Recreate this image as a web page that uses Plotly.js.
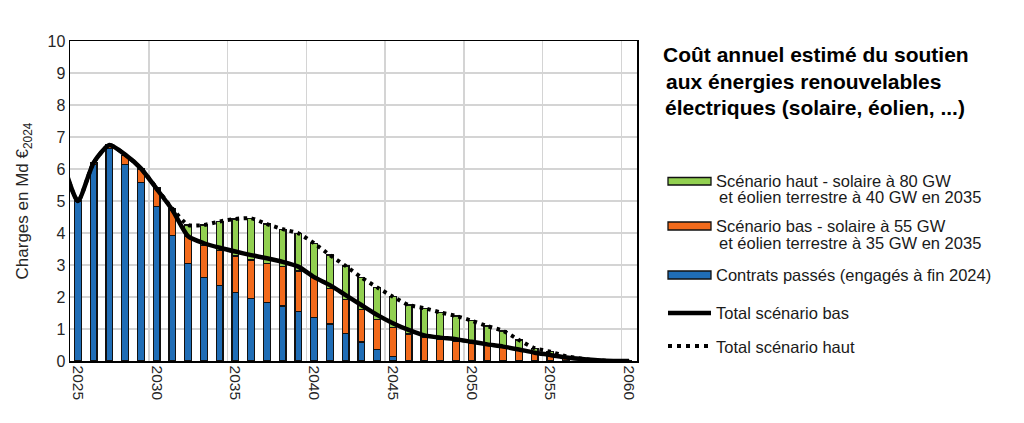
<!DOCTYPE html>
<html>
<head>
<meta charset="utf-8">
<script src="https://cdn.plot.ly/plotly-3.0.1.min.js"></script>
<style>
html,body{margin:0;padding:0;background:#fff;}
#chart{width:1024px;height:423px;}
</style>
</head>
<body>
<div id="chart"></div>
<script>
// ---------------- DATA ----------------
const years = [2025,2026,2027,2028,2029,2030,2031,2032,2033,2034,2035,2036,2037,2038,2039,2040,2041,2042,
               2043,2044,2045,2046,2047,2048,2049,2050,2051,2052,2053,2054,2055,2056,2057,2058,2059,2060];
// Contrats passés (engagés à fin 2024)
const contratsPasses = [5.00,6.15,6.65,6.15,5.58,4.82,3.93,3.05,2.61,2.37,2.14,1.96,1.83,1.72,1.54,1.36,1.16,0.86,
                        0.59,0.36,0.14,0.02,0,0,0,0,0,0,0,0,0,0,0,0,0,0];
// Scénario bas (supplément au-dessus des contrats passés)
const scenarioBas = [0.00,0.05,0.10,0.27,0.42,0.58,0.77,0.85,0.99,1.08,1.14,1.20,1.22,1.23,1.27,1.26,1.11,1.07,
                     1.02,0.94,0.91,0.82,0.74,0.67,0.60,0.56,0.50,0.43,0.34,0.24,0.16,0.10,0.05,0.02,0,0];
// Scénario haut (supplément au-dessus du scénario bas)
const scenarioHaut = [0.00,0.00,0.00,0.00,0.00,0.02,0.05,0.35,0.65,0.92,1.16,1.30,1.23,1.17,1.18,1.06,1.04,1.04,
                      1.00,1.00,0.96,0.91,0.91,0.85,0.81,0.70,0.59,0.51,0.32,0.16,0.13,0.05,0.02,0,0,0];
// Courbes de total (incluent 2024)
const lineYears = [2024,2025,2026,2027,2028,2029,2030,2031,2032,2033,2034,2035,2036,2037,2038,2039,2040,2041,2042,
                   2043,2044,2045,2046,2047,2048,2049,2050,2051,2052,2053,2054,2055,2056,2057,2058,2059,2060];
const totalBas = [6.30,5.00,6.20,6.75,6.45,6.02,5.38,4.72,3.90,3.68,3.54,3.42,3.31,3.21,3.10,2.95,2.62,2.37,2.06,
                  1.75,1.44,1.18,0.97,0.80,0.73,0.68,0.60,0.52,0.45,0.36,0.26,0.19,0.11,0.06,0.02,0,0];
const totalHaut = [6.30,5.00,6.20,6.75,6.45,6.02,5.40,4.76,4.25,4.25,4.36,4.44,4.46,4.28,4.12,3.99,3.68,3.31,2.97,
                   2.61,2.30,2.01,1.75,1.65,1.52,1.41,1.26,1.09,0.94,0.66,0.40,0.29,0.15,0.07,0.02,0,0];
const xTickVals = [2025,2030,2035,2040,2045,2050,2055,2060];
const xTickText = ['2025','2030','2035','2040','2045','2050','2055','2060'];
const xGridVals = [2029.5,2034.5,2039.5,2044.5,2049.5,2054.5,2059.5];

const seriesNames = [
  'Scénario haut - solaire à 80 GW',
  'et éolien terrestre à 40 GW en 2035',
  'Scénario bas - solaire à 55 GW',
  'et éolien terrestre à 35 GW en 2035',
  'Contrats passés (engagés à fin 2024)',
  'Total scénario bas',
  'Total scénario haut'
];
const titleLines = ['Coût annuel estimé du soutien','aux énergies renouvelables','électriques (solaire, éolien, ...)'];

// ---------------- STYLE ----------------
const C_BLUE = '#1f6db6', C_ORANGE = '#f26a1b', C_GREEN = '#92d050';
const FONT = 'Liberation Sans, Arial, sans-serif';
const L = 70, R = 637, T = 41, B = 361, W = 1024, H = 423;
const px = v => (v - L) / (R - L);
const py = v => (B - v) / (B - T);

const barCommon = {type:'bar', x: years, width: 0.42, showlegend:false, hoverinfo:'skip'};
const traces = [
  Object.assign({}, barCommon, {y: contratsPasses, marker:{color:C_BLUE, line:{color:'#111', width:1.3}}}),
  Object.assign({}, barCommon, {y: scenarioBas, marker:{color:C_ORANGE, line:{color:'#111', width:1.3}}}),
  Object.assign({}, barCommon, {y: scenarioHaut, marker:{color:C_GREEN, line:{color:'#111', width:1.3}}}),
  {type:'scatter', mode:'lines', x: lineYears, y: totalHaut, showlegend:false, hoverinfo:'skip',
   line:{color:'#000', width:4, dash:'3.5px,4.5px', shape:'spline', smoothing:0.6}},
  {type:'scatter', mode:'lines', x: lineYears, y: totalBas, showlegend:false, hoverinfo:'skip',
   line:{color:'#000', width:4.5, shape:'spline', smoothing:0.6}},
  {type:'scatter', x: [], y: [], xaxis:'x2', yaxis:'y', showlegend:false, hoverinfo:'skip'}
];

const ann = [];
const titleY = [55, 81, 107], titleX = [661, 664, 663];
titleLines.forEach((t,i) => ann.push({xref:'paper', yref:'paper', x:px(titleX[i]), y:py(titleY[i]),
  xanchor:'left', yanchor:'middle', showarrow:false, text:'<b>'+t+'</b>',
  font:{family:FONT, size:21, color:'#000'}}));
const legX = [714, 717, 714, 717, 714, 714, 714];
const legY = [181, 197, 226, 243, 275, 313, 347];
seriesNames.forEach((t,i) => ann.push({xref:'paper', yref:'paper', x:px(legX[i]), y:py(legY[i]),
  xanchor:'left', yanchor:'middle', showarrow:false, text:t,
  font:{family:FONT, size:16.5, color:'#1a1a1a'}}));

const shapes = [];
const swatches = [[C_GREEN,177.5,185],[C_ORANGE,222,230],[C_BLUE,271,279]];
swatches.forEach(s => shapes.push({type:'rect', xref:'paper', yref:'paper',
  x0:px(668), x1:px(711), y0:py(s[2]), y1:py(s[1]), fillcolor:s[0], line:{color:'#111', width:1.3}}));
shapes.push({type:'line', xref:'paper', yref:'paper', x0:px(668), x1:px(711), y0:py(313), y1:py(313),
  line:{color:'#000', width:4.5}});
shapes.push({type:'line', xref:'paper', yref:'paper', x0:px(668), x1:px(712), y0:py(346), y1:py(346),
  line:{color:'#000', width:4, dash:'4px,5px'}});

const layout = {
  width: W, height: H,
  margin:{l:L, r:W-R, t:T, b:H-B, pad:0},
  paper_bgcolor:'#fff', plot_bgcolor:'#fff',
  barmode:'stack',
  font:{family:FONT, color:'#262626'},
  xaxis:{
    range:[2024.5, 2060.5], tickmode:'array', tickvals:xTickVals, ticktext:xTickText,
    tickangle:90, tickfont:{size:15.5, color:'#262626'}, ticks:'', showgrid:false, zeroline:false,
    showline:true, linecolor:'#000', linewidth:1.5, mirror:true
  },
  xaxis2:{
    overlaying:'x', anchor:'y', range:[2024.5, 2060.5], tickmode:'array', tickvals:xGridVals,
    showticklabels:false, ticks:'', showgrid:true, gridcolor:'#d4d4d4', gridwidth:1.5,
    zeroline:false, showline:false
  },
  yaxis:{
    range:[0,10], dtick:1, tick0:0, ticks:'', showgrid:true, gridcolor:'#d4d4d4', gridwidth:1.5,
    zeroline:false, showline:true, linecolor:'#000', linewidth:1.5, mirror:true,
    tickfont:{size:16, color:'#262626'},
    title:{text:'Charges en Md €<sub>2024</sub>', font:{size:17, color:'#262626'}, standoff:14}
  },
  annotations: ann,
  shapes: shapes
};

Plotly.newPlot('chart', traces, layout, {staticPlot:true, displayModeBar:false});
</script>
</body>
</html>
